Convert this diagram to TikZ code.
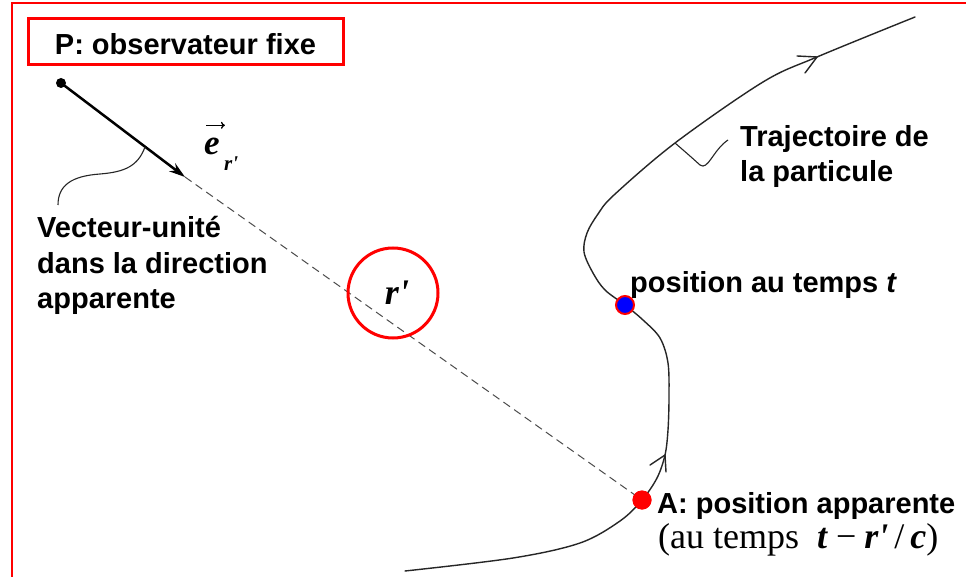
\documentclass[tikz,border=0pt]{standalone}
\usepackage{fontspec}
\setmainfont{Liberation Sans}
\newfontfamily\serif{Liberation Serif}
\usetikzlibrary{arrows.meta}
\begin{document}
\begin{tikzpicture}[x=1pt,y=-1pt,
  lbl/.style={font=\fontsize{29}{35}\selectfont\bfseries, inner sep=0pt, anchor=base west},
  traj/.style={line width=1.4pt, draw=black!85, line cap=round, line join=round},
  callout/.style={line width=1.1pt, draw=black!85},
  dashline/.style={line width=1pt, draw=black!70, dash pattern=on 8pt off 5pt},
  dotA/.style={circle, fill=red, inner sep=0pt, minimum size=19pt},
  dotB/.style={circle, fill=blue, draw=red, line width=2pt, inner sep=0pt, minimum size=18pt},
  sbi/.style={font=\serif\bfseries\itshape\fontsize{#1}{#1}\selectfont, inner sep=0pt}
]
\fill[white] (0,0) rectangle (966,577);
\useasboundingbox (0,0) rectangle (966,577);
% outer frame
\draw[red, line width=2pt] (12,577) -- (12,3) -- (966,3);
% observer box
\node[draw=red, line width=3pt, minimum width=315pt, minimum height=46pt, inner xsep=0pt, inner ysep=10pt,
      text height=26pt, text depth=0pt, font=\fontsize{29}{35}\selectfont\bfseries, anchor=north]
      (obs) at (185.5,17) {P: observateur fixe};
% points
\coordinate (P) at (61,83);
\coordinate (tip) at (185,177);
\coordinate (cv) at (145,147);
\coordinate (cvend) at (58,205);
\coordinate (tc) at (675,143);
\coordinate (tcend) at (728,140);
% dashed line of sight
\node[dotA] (A) at (642,500) {};
\draw[dashline] (tip) -- (A.center);
% unit vector
\fill (P) circle (5pt);
\draw[line width=2.5pt, -{Stealth[length=16pt,width=10pt]}] (P) -- (tip);
% callout of vector
\draw[callout] (cv) .. controls (138,166) and (125,172) .. (100,174) .. controls (72,176) and (58,185) .. (cvend);
% trajectory
\draw[traj] plot[smooth, tension=0.55] coordinates {(405,571) (513,558) (580,543) (620,521) (642,500) (657,478) (665,455) (668,430) (669,397) (668,363) (660,338) (643,320) (625,305) (605,290) (593,273) (584,252) (587,233) (598,214) (614,195) (675,143) (763,82) (817,57) (915,17)};
\node[dotA] (A2) at (A.center) {};
\node[dotB] (B) at (625,305) {};
% arrowheads on trajectory
\draw[traj] (650,465) -- (665,455) -- (666,472);
\draw[traj] (797,56) -- (817,57) -- (805,73);
% callout of trajectory
\draw[callout] (tc) .. controls (690,156) .. (700,165) .. controls (708,171) and (713,150) .. (tcend);
% labels
\node[lbl] (t1) at (740,147) {Trajectoire de};
\node[lbl] (t2) at (740,182) {la particule};
\node[lbl] (v1) at (37,238) {Vecteur-unité};
\node[lbl] (v2) at (37,273) {dans la direction};
\node[lbl] (v3) at (37,308) {apparente};
\node[lbl] (pt) at (630,292) {position au temps \textit{t}};
\node[lbl] (a1) at (657,513) {A: position apparente};
\node[inner sep=0pt, anchor=base west, font=\serif\fontsize{36}{40}\selectfont] (a2) at (658,548)
   {(au temps\hspace{18pt}{\bfseries\itshape t}\hspace{9pt}−\hspace{8pt}{\bfseries\itshape r\textquotesingle}\hspace{6pt}/\hspace{6pt}{\bfseries\itshape c})};
% r' in circle
\node[circle, draw=red, line width=3pt, minimum size=90pt, inner sep=0pt] (rc) at (393,293) {};
\node[sbi=36] (rl) at (397,293) {r\textquotesingle};
% e_r'
\node[sbi=35, anchor=base west] (e) at (204,155) {e};
\draw[line width=1.3pt, -{To[length=4pt,width=7pt]}] ([xshift=2pt,yshift=13pt]e.north west) -- ([xshift=5pt,yshift=13pt]e.north east);
\node[sbi=21, anchor=base west] (esub) at (224,171) {r\textquotesingle};
\end{tikzpicture}
\end{document}
